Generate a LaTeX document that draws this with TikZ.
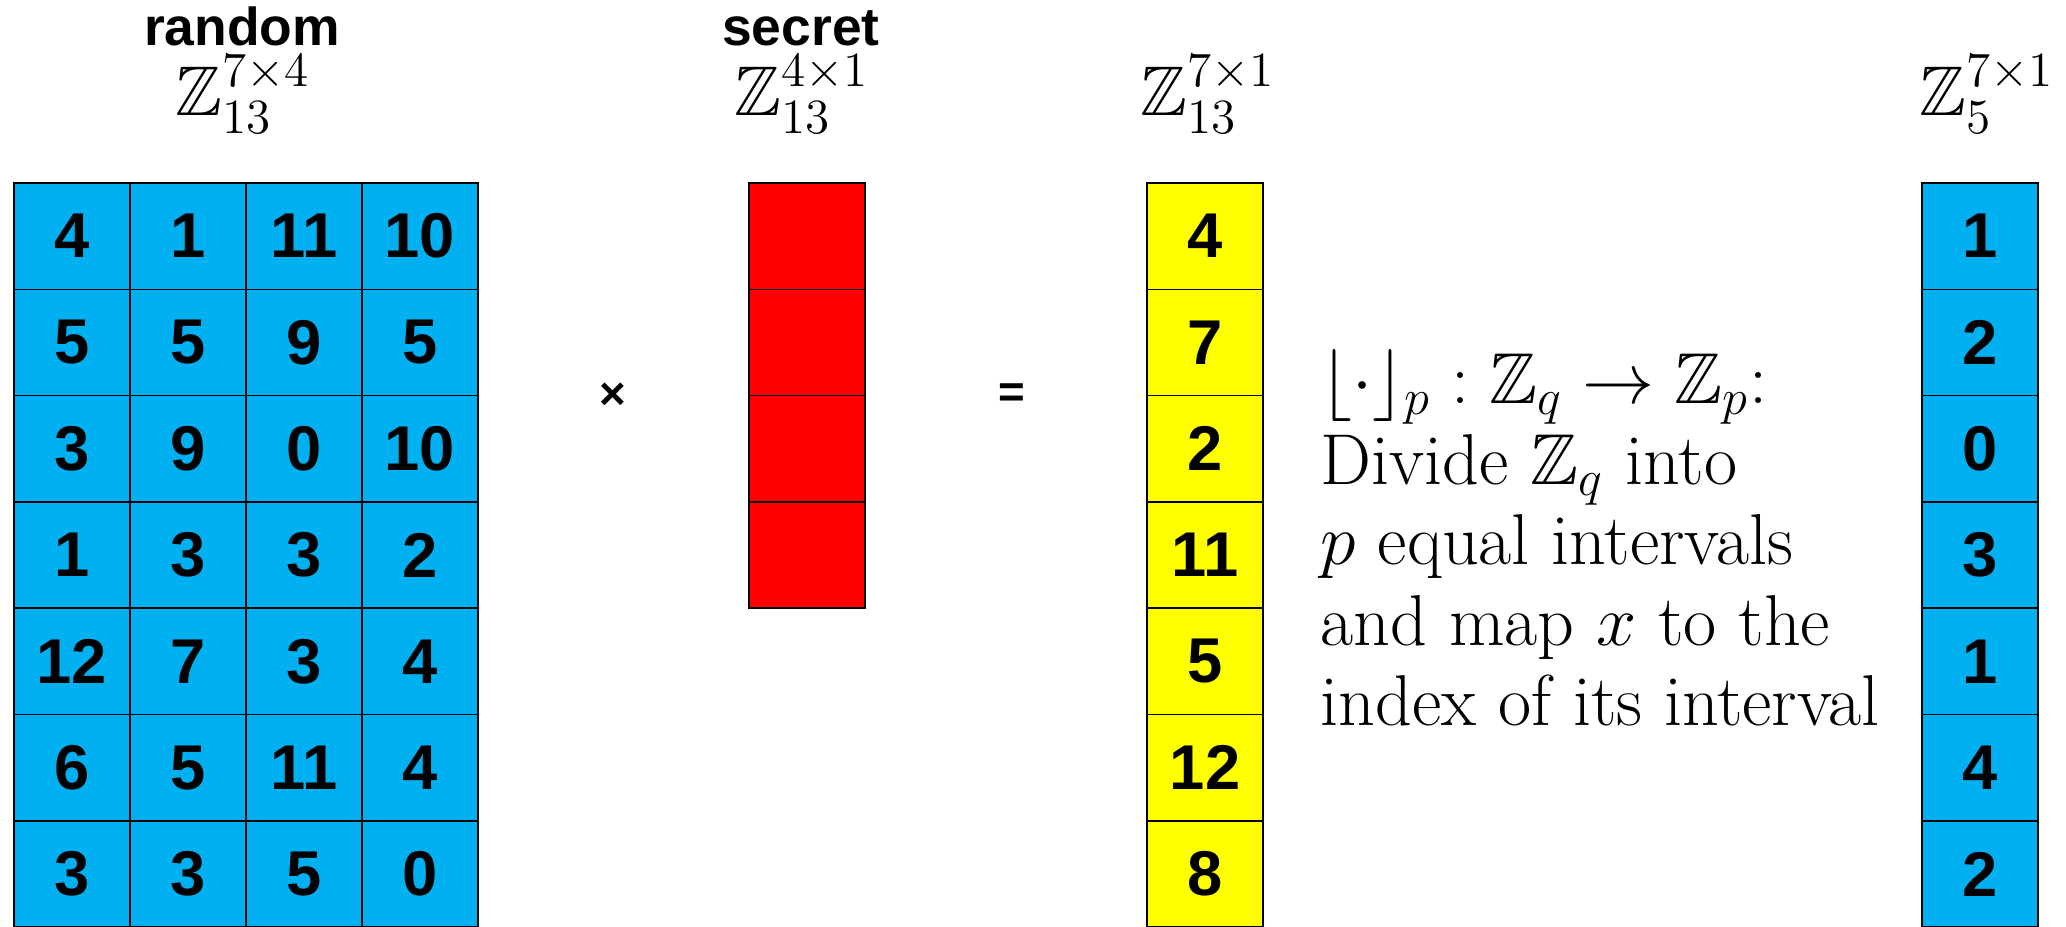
\RequirePackage{fix-cm}
\documentclass[tikz,border=0pt]{standalone}
\usepackage{amsmath,amssymb}
\usepackage{fontspec}
\setsansfont{Liberation Sans}
\usetikzlibrary{positioning}
\usepackage{xcolor}
\definecolor{cellblue}{HTML}{00B0F0}
\definecolor{cellred}{HTML}{FF0000}
\definecolor{cellyellow}{HTML}{FFFF00}

\begin{document}
\begin{tikzpicture}[every node/.style={inner sep=0pt},
    cell/.style={draw, line width=0.45pt, minimum width=1.16cm, minimum height=1.063cm, font=\sffamily\bfseries\fontsize{18}{18}\selectfont},
    head/.style={anchor=base, font=\sffamily\bfseries\fontsize{15.2}{15.2}\selectfont},
    dimlbl/.style={anchor=base, font=\fontsize{20}{22}\selectfont},
    op/.style={font=\sffamily\bfseries\fontsize{13}{13}\selectfont}]
  \useasboundingbox (0,0) rectangle (20.66,-9.26);
  % random matrix
  \foreach \r/\row in {1/{4,1,11,10}, 2/{5,5,9,5}, 3/{3,9,0,10}, 4/{1,3,3,2}, 5/{12,7,3,4}, 6/{6,5,11,4}, 7/{3,3,5,0}}
    \foreach \v [count=\c] in \row
      \node[cell, fill=cellblue] (a-\r-\c) at ({0.72+1.16*(\c-1)}, {-2.362-1.063*(\r-1)}) {\v};
  % secret vector
  \foreach \r in {1,...,4}
    \node[cell, fill=cellred] (s-\r) at (8.07, {-2.362-1.063*(\r-1)}) {};
  % product and rounded vectors
  \foreach \v [count=\r] in {4,7,2,11,5,12,8}
    \node[cell, fill=cellyellow] (y-\r) at (12.05, {-2.362-1.063*(\r-1)}) {\v};
  \foreach \v [count=\r] in {1,2,0,3,1,4,2}
    \node[cell, fill=cellblue] (b-\r) at (19.80, {-2.362-1.063*(\r-1)}) {\v};

  \node[head] (randlbl) at (2.42,-0.45) {random};
  \node[head] (secrlbl) at (8.01,-0.45) {secret};
  \node[dimlbl] (adim) at (2.43,-1.15) {$\mathbb{Z}_{13}^{7\times 4}$};
  \node[dimlbl] (sdim) at (8.02,-1.15) {$\mathbb{Z}_{13}^{4\times 1}$};
  \node[dimlbl] (ydim) at (12.08,-1.15) {$\mathbb{Z}_{13}^{7\times 1}$};
  \node[dimlbl] (bdim) at (19.87,-1.15) {$\mathbb{Z}_{5}^{7\times 1}$};

  \node[op] (times) at (6.13,-3.96) {×};
  \node[op] (equals) at (10.12,-3.96) {=};

  \node[anchor=north west, align=left, font={\fontsize{20.5}{22.9}\selectfont\lineskiplimit=-20pt\relax}] (rounding) at (13.20,-3.49)
    {$\lfloor\cdot\rfloor_p : \mathbb{Z}_q \rightarrow \mathbb{Z}_p$:\\
     Divide $\mathbb{Z}_q$ into\\
     $p$ equal intervals\\
     and map $x$ to the\\
     index of its interval};
\end{tikzpicture}
\end{document}
